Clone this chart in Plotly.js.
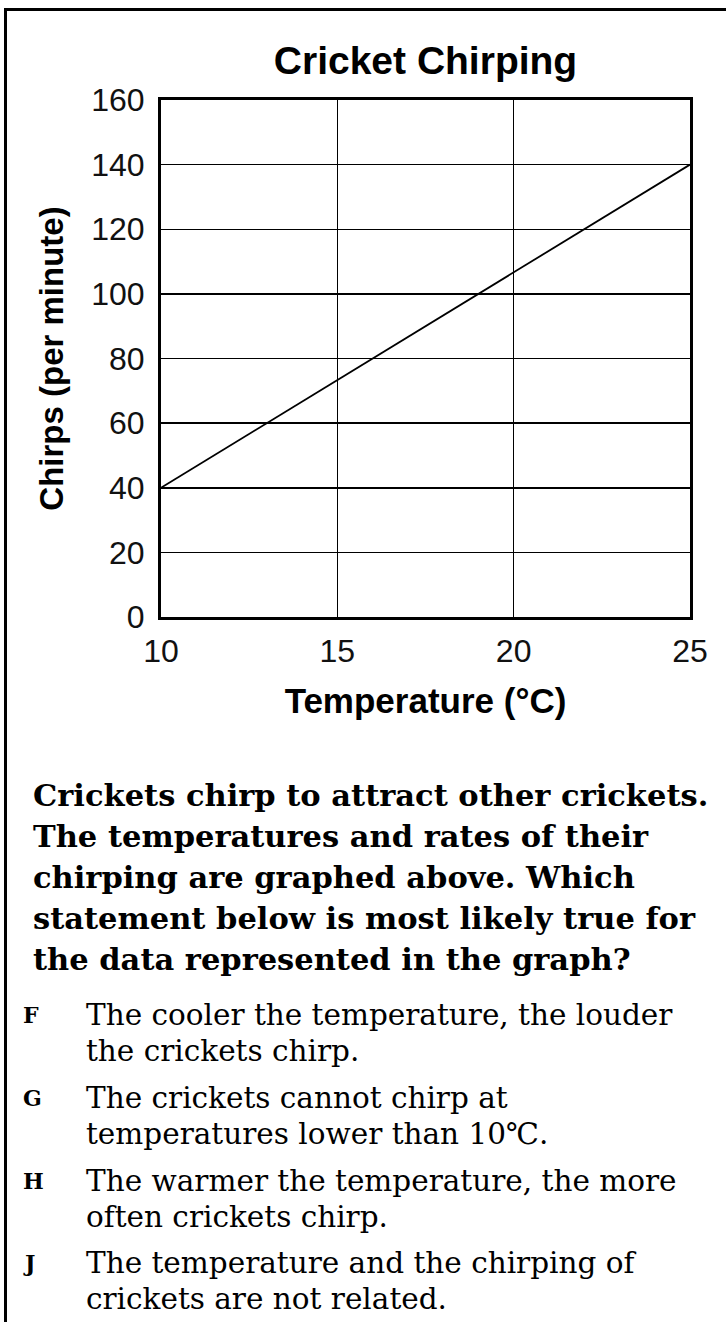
<!DOCTYPE html>
<html>
<head>
<meta charset="utf-8">
<script src="https://cdn.plot.ly/plotly-3.0.1.min.js"></script>
<style>
  html, body { margin: 0; padding: 0; background: #fff; }
  #wrap { position: relative; width: 726px; height: 1322px; overflow: hidden; }
  #frame { position: absolute; left: 4px; top: 8px; width: 730px; height: 1330px;
           border-left: 3px solid #000; border-top: 3px solid #000; pointer-events: none; }
  #chart { position: absolute; left: 0; top: 0; width: 726px; height: 1322px; }
</style>
</head>
<body>
<div id="wrap">
  <div id="chart"></div>
  <div id="frame"></div>
</div>
<script>
// ---- data ----
const temperatureC = [10, 25];
const chirpsPerMinute = [40, 140];
const xTickValues = [10, 15, 20, 25];
const yTickValues = [0, 20, 40, 60, 80, 100, 120, 140, 160];
const chartTitle = "Cricket Chirping";
const xTitle = "Temperature (°C)";
const yTitle = "Chirps (per minute)";
const questionLines = [
  "Crickets chirp to attract other crickets.",
  "The temperatures and rates of their",
  "chirping are graphed above. Which",
  "statement below is most likely true for",
  "the data represented in the graph?"
];
const optionLetters = ["F", "G", "H", "J"];
const optionTexts = [
  ["The cooler the temperature, the louder", "the crickets chirp."],
  ["The crickets cannot chirp at", "temperatures lower than 10\u2103."],
  ["The warmer the temperature, the more", "often crickets chirp."],
  ["The temperature and the chirping of", "crickets are not related."]
];

// ---- layout geometry (pixels) ----
const W = 726, H = 1322;
const L = 161, R = 690, T = 100, B = 617;
const px2x = p => (p - L) / (R - L);
const px2y = p => (B - p) / (B - T);

const sans = "Liberation Sans, Arial, Helvetica, sans-serif";
const serif = "DejaVu Serif, serif";

const annotations = [];
const qTop = 795, qStep = 41;
questionLines.forEach((s, i) => {
  annotations.push({
    text: "<b>" + s + "</b>", xref: "paper", yref: "paper",
    x: px2x(31), y: px2y(qTop + i * qStep), xanchor: "left", yanchor: "middle",
    showarrow: false, font: { family: serif, size: 30.5, color: "#000" }
  });
});
const optY = [1015, 1098, 1181, 1263], optStep = 36;
optionLetters.forEach((letter, i) => {
  annotations.push({
    text: "<b>" + letter + "</b>", xref: "paper", yref: "paper",
    x: px2x(21), y: px2y(optY[i]), xanchor: "left", yanchor: "middle",
    showarrow: false, font: { family: serif, size: 22, color: "#000" }
  });
  optionTexts[i].forEach((s, j) => {
    annotations.push({
      text: s, xref: "paper", yref: "paper",
      x: px2x(84), y: px2y(optY[i] + j * optStep), xanchor: "left", yanchor: "middle",
      showarrow: false, font: { family: serif, size: 29.5, color: "#000" }
    });
  });
});

const trace = {
  x: temperatureC, y: chirpsPerMinute, type: "scatter", mode: "lines",
  line: { color: "#000", width: 1.8 }, hoverinfo: "skip", showlegend: false
};

const layout = {
  width: W, height: H,
  margin: { l: L, r: W - R, t: T, b: H - B, pad: 0 },
  paper_bgcolor: "#fff", plot_bgcolor: "#fff",
  title: {
    text: "<b>" + chartTitle + "</b>", xref: "paper", x: 0.5, xanchor: "center",
    yref: "container", y: 1 - 60 / H, yanchor: "middle",
    font: { family: sans, size: 39, color: "#000" }
  },
  xaxis: {
    range: [10, 25], tickvals: xTickValues, ticktext: xTickValues.map(String),
    showgrid: true, gridcolor: "#000", gridwidth: 1.5, zeroline: false,
    showline: true, linecolor: "#000", linewidth: 3, mirror: true,
    ticks: "", ticklabelstandoff: 4, automargin: false,
    tickfont: { family: sans, size: 32, color: "#111" },
    title: { text: "<b>" + xTitle + "</b>", standoff: 21, font: { family: sans, size: 35, color: "#000" } }
  },
  yaxis: {
    range: [0, 160], tickvals: yTickValues, ticktext: yTickValues.map(String),
    showgrid: true, gridcolor: "#000", gridwidth: 1.5, zeroline: false,
    showline: true, linecolor: "#000", linewidth: 3, mirror: true,
    ticks: "", ticklabelstandoff: 7, automargin: false,
    tickfont: { family: sans, size: 32, color: "#111" },
    title: { text: "<b>" + yTitle + "</b>", standoff: 18, font: { family: sans, size: 33, color: "#000" } }
  },
  annotations: annotations
};

Plotly.newPlot("chart", [trace], layout, { displayModeBar: false, staticPlot: true });
</script>
</body>
</html>
